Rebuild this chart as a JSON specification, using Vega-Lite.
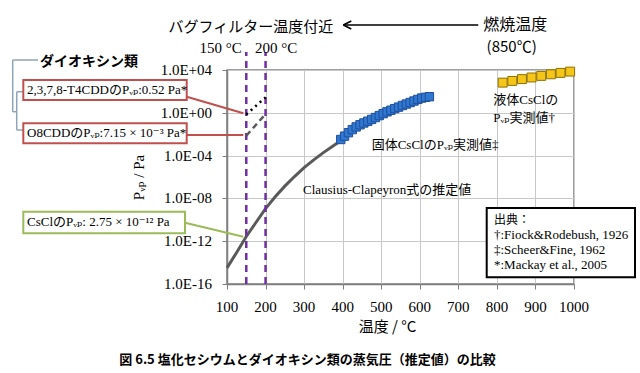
{
  "$schema": "https://vega.github.io/schema/vega-lite/v6.json",
  "width": 347,
  "height": 214,
  "autosize": "none",
  "padding": {"left": 227, "top": 70, "right": 66, "bottom": 89},
  "background": "white",
  "config": {
    "view": {"stroke": "#7f7f7f", "strokeWidth": 1.5},
    "axis": {
      "titleFont": "Noto Sans CJK JP",
      "titleFontSize": 15,
      "titleFontWeight": "normal",
      "titleColor": "#000000",
      "gridColor": "#c8c8c8",
      "gridWidth": 1,
      "domainColor": "#7f7f7f",
      "domainWidth": 1.5,
      "tickColor": "#7f7f7f",
      "tickSize": 5,
      "labels": false
    }
  },
  "datasets": {
    "cc": [
      {"T": 100, "P": 3.2e-15}, {"T": 125, "P": 8.9e-14}, {"T": 150, "P": 2.75e-12},
      {"T": 175, "P": 5.6e-11}, {"T": 200, "P": 1.1e-9}, {"T": 225, "P": 1.4e-8},
      {"T": 250, "P": 1.4e-7}, {"T": 275, "P": 1.1e-6}, {"T": 300, "P": 7.6e-6},
      {"T": 325, "P": 4.0e-5}, {"T": 350, "P": 1.9e-4}, {"T": 375, "P": 7.9e-4},
      {"T": 395, "P": 2.4e-3}
    ],
    "solid": [
      {"T": 395, "P": 3.2e-3}, {"T": 405, "P": 6.6e-3}, {"T": 415, "P": 1.38e-2},
      {"T": 425, "P": 2.7e-2}, {"T": 435, "P": 4.8e-2}, {"T": 445, "P": 7.6e-2},
      {"T": 455, "P": 0.112}, {"T": 465, "P": 0.162}, {"T": 475, "P": 0.24},
      {"T": 485, "P": 0.36}, {"T": 495, "P": 0.55}, {"T": 505, "P": 0.83},
      {"T": 515, "P": 1.23}, {"T": 525, "P": 1.74}, {"T": 535, "P": 2.45},
      {"T": 545, "P": 3.4}, {"T": 555, "P": 4.8}, {"T": 565, "P": 6.6},
      {"T": 575, "P": 9.1}, {"T": 585, "P": 12.6}, {"T": 595, "P": 17.8},
      {"T": 605, "P": 24}, {"T": 615, "P": 28}, {"T": 625, "P": 32}
    ],
    "liquid": [
      {"T": 815, "P": 660}, {"T": 840, "P": 955}, {"T": 865, "P": 1410},
      {"T": 890, "P": 2000}, {"T": 915, "P": 2820}, {"T": 940, "P": 3980},
      {"T": 965, "P": 5370}, {"T": 990, "P": 7080}
    ],
    "t4cdd": [{"T": 150, "P": 0.7}, {"T": 200, "P": 28}],
    "o8cdd": [{"T": 150, "P": 7.15e-3}, {"T": 200, "P": 0.77}],
    "vlines": [{"T": 150, "T2": 150, "P": 1e-16, "P2": 4.8e5}, {"T": 200, "T2": 200, "P": 1e-16, "P2": 4.8e5}],
    "xlabels": [
      {"T": 100, "P": 7.6e-19, "label": "100"}, {"T": 200, "P": 7.6e-19, "label": "200"},
      {"T": 300, "P": 7.6e-19, "label": "300"}, {"T": 400, "P": 7.6e-19, "label": "400"},
      {"T": 500, "P": 7.6e-19, "label": "500"}, {"T": 600, "P": 7.6e-19, "label": "600"},
      {"T": 700, "P": 7.6e-19, "label": "700"}, {"T": 800, "P": 7.6e-19, "label": "800"},
      {"T": 900, "P": 7.6e-19, "label": "900"}, {"T": 1000, "P": 7.6e-19, "label": "1000"}
    ],
    "ylabels": [
      {"T": 61.1, "P": 1e4, "label": "1.0E+04"}, {"T": 61.1, "P": 1, "label": "1.0E+00"},
      {"T": 61.1, "P": 1e-4, "label": "1.0E-04"}, {"T": 61.1, "P": 1e-8, "label": "1.0E-08"},
      {"T": 61.1, "P": 1e-12, "label": "1.0E-12"}, {"T": 61.1, "P": 1e-16, "label": "1.0E-16"}
    ],
    "bracket": [
      {"T": -455.8, "T2": -390.2, "P": 8.6e4, "P2": 8.6e4},
      {"T": -455.8, "T2": -455.8, "P": 8.6e4, "P2": 1.27},
      {"T": -455.8, "T2": -445.4, "P": 1.27, "P2": 1.27},
      {"T": -445.4, "T2": -445.4, "P": 93.8, "P2": 0.0247},
      {"T": -445.4, "T2": -428.3, "P": 93.8, "P2": 93.8},
      {"T": -445.4, "T2": -428.3, "P": 0.0247, "P2": 0.0247}
    ],
    "boxes": [
      {"T": -428.3, "T2": -4.5, "P": 1162, "P2": 15.7, "box": "dioxin"},
      {"T": -428.3, "T2": -4.5, "P": 0.1045, "P2": 1.41e-3, "box": "dioxin"},
      {"T": -428.3, "T2": -8.9, "P": 5.7e-10, "P2": 5.47e-12, "box": "cscl"},
      {"T": 773.6, "T2": 1158.2, "P": 1.27e-9, "P2": 4.2e-16, "box": "source"}
    ],
    "connectors": [
      {"T": -4.5, "T2": 142.3, "P": 32, "P2": 0.898, "box": "dioxin"},
      {"T": -4.5, "T2": 142.3, "P": 8.41e-3, "P2": 8.41e-3, "box": "dioxin"},
      {"T": -8.9, "T2": 142.3, "P": 5.36e-11, "P2": 2.63e-12, "box": "cscl"}
    ],
    "notes": [
      {"T": -418.7, "P": 135, "label": "2,3,7,8-T4CDDのPᵥₚ:0.52 Pa*"},
      {"T": -418.7, "P": 0.01213, "label": "O8CDDのPᵥₚ:7.15 × 10⁻³ Pa*"},
      {"T": -418.7, "P": 5.6e-11, "label": "CsClのPᵥₚ: 2.75 × 10⁻¹² Pa"},
      {"T": 297.1, "P": 6.1e-8, "label": "Clausius-Clapeyron式の推定値"},
      {"T": 475.3, "P": 9.8e-4, "label": "固体CsClのPᵥₚ実測値‡"},
      {"T": 790.7, "P": 15.7, "label": "液体CsClの"},
      {"T": 790.7, "P": 0.327, "label": "Pᵥₚ実測値†"},
      {"T": 792.5, "P": 3.6e-12, "label": "†:Fiock&Rodebush, 1926"},
      {"T": 792.5, "P": 1.45e-13, "label": "‡:Scheer&Fine, 1962"},
      {"T": 792.5, "P": 5.97e-15, "label": "*:Mackay et al., 2005"}
    ],
    "arrow": [{"T": 401.6, "T2": 751.7, "P": 1.61e8, "P2": 1.61e8}]
  },
  "encoding": {
    "x": {
      "field": "T", "type": "quantitative",
      "scale": {"domain": [100, 1000], "nice": false, "zero": false},
      "axis": {"values": [100, 200, 300, 400, 500, 600, 700, 800, 900, 1000], "title": "温度 / °C", "titlePadding": 30, "titleX": 160}
    },
    "y": {
      "field": "P", "type": "quantitative",
      "scale": {"type": "log", "domain": [1e-16, 1e4], "nice": false},
      "axis": {
        "values": [1e-16, 1e-12, 1e-8, 1e-4, 1, 1e4],
        "title": "Pᵥₚ / Pa",
        "titleFont": "Liberation Serif, DejaVu Serif",
        "titlePadding": 75
      }
    }
  },
  "layer": [
    {
      "data": {"name": "cc"},
      "mark": {"type": "line", "color": "#595959", "strokeWidth": 3}
    },
    {
      "data": {"name": "vlines"},
      "mark": {"type": "rule", "color": "#7030A0", "strokeWidth": 2.5, "strokeDash": [7, 5]},
      "encoding": {"x2": {"field": "T2"}, "y2": {"field": "P2"}}
    },
    {
      "data": {"name": "t4cdd"},
      "mark": {"type": "line", "color": "#000000", "strokeWidth": 2.5, "strokeDash": [2, 4]}
    },
    {
      "data": {"name": "o8cdd"},
      "mark": {"type": "line", "color": "#595959", "strokeWidth": 2.5, "strokeDash": [6, 4]}
    },
    {
      "data": {"name": "solid"},
      "mark": {"type": "point", "shape": "square", "filled": true, "size": 70, "color": "#2E78D2", "stroke": "#1F4E9A", "strokeWidth": 1, "opacity": 1}
    },
    {
      "data": {"name": "liquid"},
      "mark": {"type": "point", "shape": "square", "filled": true, "size": 80, "color": "#F5C518", "stroke": "#8C7000", "strokeWidth": 1, "opacity": 1}
    },
    {
      "data": {"name": "xlabels"},
      "mark": {"type": "text", "align": "center", "baseline": "middle", "font": "Liberation Serif", "fontSize": 15, "color": "#000000"},
      "encoding": {"text": {"field": "label"}}
    },
    {
      "data": {"name": "ylabels"},
      "mark": {"type": "text", "align": "right", "baseline": "middle", "font": "Liberation Serif", "fontSize": 15, "color": "#000000"},
      "encoding": {"text": {"field": "label"}}
    },
    {
      "data": {"name": "bracket"},
      "mark": {"type": "rule", "color": "#8EA4B8", "strokeWidth": 1.5},
      "encoding": {"x2": {"field": "T2"}, "y2": {"field": "P2"}}
    },
    {
      "data": {"name": "connectors"},
      "mark": {"type": "rule", "strokeWidth": 2},
      "encoding": {
        "x2": {"field": "T2"}, "y2": {"field": "P2"},
        "stroke": {"field": "box", "type": "nominal", "scale": {"domain": ["dioxin", "cscl", "source"], "range": ["#C0504D", "#9BBB59", "#000000"]}, "legend": null}
      }
    },
    {
      "data": {"name": "boxes"},
      "mark": {"type": "rect", "fill": "white", "strokeWidth": 2},
      "encoding": {
        "x2": {"field": "T2"}, "y2": {"field": "P2"},
        "stroke": {"field": "box", "type": "nominal", "scale": {"domain": ["dioxin", "cscl", "source"], "range": ["#C0504D", "#9BBB59", "#000000"]}, "legend": null}
      }
    },
    {
      "data": {"name": "notes"},
      "mark": {"type": "text", "align": "left", "baseline": "middle", "font": "Liberation Serif, DejaVu Serif, Noto Sans CJK JP", "fontSize": 13, "color": "#000000"},
      "encoding": {"text": {"field": "label"}}
    },
    {
      "data": {"values": [{"T": 792.5, "P": 1.0e-10, "label": "出典："}]},
      "mark": {"type": "text", "align": "left", "baseline": "middle", "font": "Noto Sans CJK JP", "fontSize": 12, "color": "#000000"},
      "encoding": {"text": {"field": "label"}}
    },
    {
      "data": {"values": [{"T": 138.1, "P": 1.14e6, "label": "150 °C"}]},
      "mark": {"type": "text", "align": "right", "baseline": "middle", "font": "Liberation Serif", "fontSize": 15, "color": "#000000"},
      "encoding": {"text": {"field": "label"}}
    },
    {
      "data": {"values": [{"T": 172.6, "P": 1.14e6, "label": "200 °C"}]},
      "mark": {"type": "text", "align": "left", "baseline": "middle", "font": "Liberation Serif", "fontSize": 15, "color": "#000000"},
      "encoding": {"text": {"field": "label"}}
    },
    {
      "data": {"values": [{"T": 161.7, "P": 1.12e8, "label": "バグフィルター温度付近"}, {"T": 838.3, "P": 1.51e6, "label": "(850℃)"}]},
      "mark": {"type": "text", "align": "center", "baseline": "middle", "font": "Noto Sans CJK JP", "fontSize": 15, "color": "#000000"},
      "encoding": {"text": {"field": "label"}}
    },
    {
      "data": {"values": [{"T": 764.7, "P": 1.61e8, "label": "燃焼温度"}]},
      "mark": {"type": "text", "align": "left", "baseline": "middle", "font": "Noto Sans CJK JP", "fontSize": 16, "color": "#000000"},
      "encoding": {"text": {"field": "label"}}
    },
    {
      "data": {"name": "arrow"},
      "mark": {"type": "rule", "color": "#000000", "strokeWidth": 1.5},
      "encoding": {"x2": {"field": "T2"}, "y2": {"field": "P2"}}
    },
    {
      "data": {"name": "arrow"},
      "mark": {"type": "point", "shape": "M0,0L2,-1M0,0L2,1", "filled": false, "size": 64, "color": "#000000", "strokeWidth": 1.5, "opacity": 1}
    },
    {
      "data": {"values": [{"T": -385.0, "P": 5.97e4, "label": "ダイオキシン類"}]},
      "mark": {"type": "text", "align": "left", "baseline": "middle", "font": "Noto Sans CJK JP", "fontSize": 14, "fontWeight": "bold", "color": "#000000"},
      "encoding": {"text": {"field": "label"}}
    },
    {
      "data": {"values": [{"T": 308.8, "P": 7.9e-24, "label": "図 6.5  塩化セシウムとダイオキシン類の蒸気圧（推定値）の比較"}]},
      "mark": {"type": "text", "align": "center", "baseline": "middle", "font": "Noto Sans CJK JP", "fontSize": 13, "fontWeight": "bold", "color": "#000000"},
      "encoding": {"text": {"field": "label"}}
    }
  ]
}
